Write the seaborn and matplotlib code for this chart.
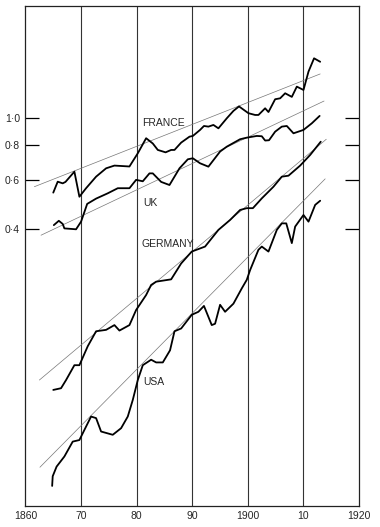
import numpy as np
import pandas as pd
import matplotlib
matplotlib.use('Agg')
import matplotlib.pyplot as plt
import seaborn as sns

# Values (log scale, index units)
france_years = [1865.0, 1865.8, 1866.7, 1867.2, 1868.8, 1869.7, 1870.9, 1872.7, 1874.5, 1876.0,
                1878.7, 1880.2, 1881.7, 1882.9, 1883.8, 1885.2, 1886.2, 1886.8, 1888.0, 1889.5,
                1890.1, 1891.4, 1892.1, 1892.9, 1893.8, 1894.7, 1896.2, 1897.4, 1898.4, 1900.1,
                1901.3, 1901.9, 1903.1, 1903.7, 1904.9, 1905.8, 1906.7, 1907.9, 1908.8, 1910.0,
                1910.9, 1911.9, 1913.0]
france_vals = [0.540, 0.591, 0.583, 0.590, 0.642, 0.522, 0.560, 0.616, 0.660, 0.675,
               0.670, 0.747, 0.846, 0.810, 0.768, 0.753, 0.768, 0.768, 0.816, 0.857,
               0.862, 0.906, 0.936, 0.931, 0.944, 0.918, 0.997, 1.060, 1.100, 1.040,
               1.025, 1.025, 1.083, 1.050, 1.167, 1.176, 1.226, 1.190, 1.295, 1.260,
               1.466, 1.636, 1.590]

uk_years = [1865.1, 1866.0, 1866.7, 1867.0, 1869.1, 1870.0, 1871.1, 1872.7, 1874.8, 1876.6,
            1878.7, 1879.9, 1881.1, 1882.3, 1882.9, 1884.4, 1885.9, 1887.7, 1889.2, 1890.1,
            1891.4, 1892.9, 1895.0, 1896.2, 1898.6, 1899.8, 1901.6, 1902.5, 1903.1, 1903.8,
            1904.9, 1906.1, 1907.0, 1908.2, 1910.0, 1911.5, 1912.9]
uk_vals = [0.413, 0.428, 0.417, 0.402, 0.399, 0.425, 0.492, 0.514, 0.537, 0.560,
           0.560, 0.600, 0.593, 0.633, 0.633, 0.590, 0.575, 0.660, 0.711, 0.717,
           0.688, 0.669, 0.758, 0.789, 0.839, 0.850, 0.862, 0.860, 0.830, 0.832,
           0.893, 0.931, 0.936, 0.881, 0.906, 0.957, 1.017]

germany_years = [1865.0, 1866.4, 1867.3, 1868.8, 1869.7, 1871.2, 1872.7, 1874.5, 1876.0, 1876.9,
                 1878.7, 1879.9, 1881.7, 1882.6, 1883.5, 1886.2, 1888.0, 1889.9, 1892.3, 1894.7,
                 1896.8, 1898.6, 1899.8, 1900.9, 1902.5, 1904.6, 1906.1, 1907.3, 1909.4, 1911.2,
                 1913.1]
germany_vals = [0.106, 0.1075, 0.115, 0.130, 0.130, 0.152, 0.172, 0.174, 0.181, 0.173,
                0.181, 0.205, 0.232, 0.252, 0.259, 0.264, 0.301, 0.332, 0.346, 0.397,
                0.431, 0.468, 0.475, 0.475, 0.515, 0.567, 0.616, 0.621, 0.675, 0.737,
                0.822]

usa_years = [1864.8, 1864.9, 1865.6, 1867.0, 1868.5, 1869.7, 1870.6, 1871.8, 1872.7, 1873.6,
             1875.7, 1877.2, 1878.4, 1879.3, 1880.2, 1881.1, 1882.6, 1883.5, 1884.7, 1886.0,
             1886.8, 1888.0, 1889.9, 1891.1, 1892.1, 1893.5, 1894.1, 1895.0, 1895.9, 1897.4,
             1898.9, 1899.8, 1900.4, 1901.9, 1902.5, 1903.7, 1905.2, 1906.1, 1906.9, 1907.9,
             1908.5, 1910.0, 1910.9, 1912.1, 1913.0]
usa_vals = [0.048, 0.052, 0.0563, 0.0612, 0.0692, 0.0701, 0.0762, 0.0851, 0.084, 0.0752,
            0.0732, 0.0773, 0.0851, 0.0976, 0.115, 0.130, 0.136, 0.133, 0.133, 0.147,
            0.172, 0.176, 0.197, 0.202, 0.212, 0.181, 0.183, 0.214, 0.202, 0.216,
            0.245, 0.263, 0.285, 0.337, 0.346, 0.332, 0.397, 0.419, 0.419, 0.356,
            0.408, 0.449, 0.425, 0.488, 0.505]

# trend lines (start/end)
countries = ['FRANCE', 'UK', 'GERMANY', 'USA']
trend_years = [[1861.6, 1913.0], [1862.8, 1913.7], [1862.5, 1914.1], [1862.6, 1913.9]]
trend_vals = [[0.567, 1.438], [0.380, 1.150], [0.115, 0.839], [0.056, 0.605]]

ytick_vals = [0.4, 0.6, 0.8, 1.0]
ytick_labels = ['0·4', '0·6', '0·8', '1·0']
xtick_vals = [1860, 1870, 1880, 1890, 1900, 1910, 1920]
xtick_labels = ['1860', '70', '80', '90', '1900', '10', '1920']

series = {
    'FRANCE': (france_years, france_vals),
    'UK': (uk_years, uk_vals),
    'GERMANY': (germany_years, germany_vals),
    'USA': (usa_years, usa_vals),
}
df = pd.concat([pd.DataFrame({'year': y, 'value': v, 'country': c})
                for c, (y, v) in series.items()], ignore_index=True)
trend_df = pd.concat([pd.DataFrame({'year': y, 'value': v, 'country': c})
                      for c, y, v in zip(countries, trend_years, trend_vals)], ignore_index=True)

sns.set_style('white')
plt.rcParams['font.family'] = ['Liberation Sans', 'DejaVu Sans']

fig = plt.figure(figsize=(3.8, 5.27), dpi=100)
ax = fig.add_axes([0.067, 0.040, 0.878, 0.9487])

for x in xtick_vals[1:-1]:
    ax.axvline(x, color='#333333', lw=0.8, zorder=0)

sns.lineplot(data=trend_df, x='year', y='value', units='country', estimator=None,
             color='#777777', lw=0.5, ax=ax)
sns.lineplot(data=df, x='year', y='value', units='country', estimator=None,
             color='black', lw=1.3, ax=ax)

ax.set_yscale('log')
ax.set_xlim(1860, 1920)
ax.set_ylim(0.0407, 2.52)

ax.set_xticks(xtick_vals)
ax.set_xticklabels(xtick_labels, fontsize=7.5)
ax.set_yticks(ytick_vals)
ax.set_yticklabels(ytick_labels, fontsize=7.5)
ax.yaxis.set_minor_locator(matplotlib.ticker.NullLocator())
ax.tick_params(axis='x', length=0, pad=4)
ax.tick_params(axis='y', direction='in', length=10, width=0.9, right=True, left=True,
               color='black', pad=4)
ax.set_xlabel('')
ax.set_ylabel('')

for sp in ax.spines.values():
    sp.set_color('#222222')
    sp.set_linewidth(0.9)

labels_pos = {'FRANCE': (1880.9, 0.96), 'UK': (1881.1, 0.496),
              'GERMANY': (1880.9, 0.354), 'USA': (1881.1, 0.113)}
for name, (x, y) in labels_pos.items():
    ax.text(x, y, name, fontsize=7.5, ha='left', va='center')

fig.savefig('out.png', dpi=100)
